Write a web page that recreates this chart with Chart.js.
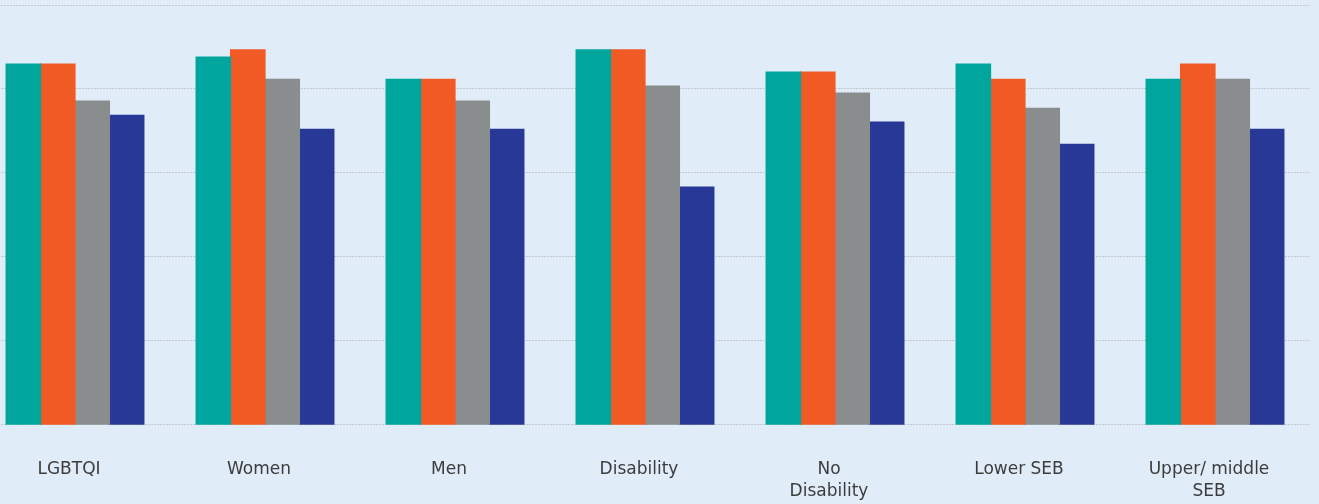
<!DOCTYPE html>
<html>
<head>
<meta charset="utf-8">
<script src="https://cdn.jsdelivr.net/npm/chart.js@4/dist/chart.umd.min.js"></script>
<style>
  html, body { margin: 0; padding: 0; background: #e0ecf8; }
  #wrap { position: relative; width: 1319px; height: 504px; overflow: hidden; background: #e0ecf8; }
  #c { position: absolute; left: -21px; top: 0; }
</style>
</head>
<body>
<div id="wrap"><canvas id="c" width="1342" height="537"></canvas></div>
<script>
const categories = ['LGBTQI', 'Women', 'Men', 'Disability', ['No', 'Disability'], 'Lower SEB', ['Upper/ middle', 'SEB']];
const seriesTeal   = [85.9, 87.6, 82.3, 89.3, 84.0, 85.9, 82.3];
const seriesOrange = [85.9, 89.3, 82.3, 89.3, 84.0, 82.3, 85.9];
const seriesGray   = [77.1, 82.3, 77.1, 80.7, 79.0, 75.4, 82.3];
const seriesNavy   = [73.7, 70.4, 70.4, 56.6, 72.1, 66.8, 70.4];
const yTicks = [0, 20, 40, 60, 80, 100];

const colors = ['#00a59e', '#f15a24', '#8a8d8e', '#283896'];
const seriesList = [seriesTeal, seriesOrange, seriesGray, seriesNavy];
const seriesNames = ['Series 1', 'Series 2', 'Series 3', 'Series 4'];

new Chart(document.getElementById('c'), {
  type: 'bar',
  data: {
    labels: categories,
    datasets: seriesList.map((d, i) => ({
      label: seriesNames[i],
      data: d,
      backgroundColor: colors[i],
      borderWidth: 0,
      inflateAmount: 0.6,
      categoryPercentage: 0.725,
      barPercentage: 1.0
    }))
  },
  options: {
    responsive: false,
    animation: false,
    layout: { padding: { top: 5, bottom: 0, left: 1, right: 11 } },
    plugins: { legend: { display: false }, tooltip: { enabled: false } },
    scales: {
      x: {
        grid: { display: false, drawTicks: false },
        border: { display: false },
        ticks: {
          padding: 34,
          labelOffset: -6,
          maxRotation: 0,
          autoSkip: false,
          color: '#3c3c3c',
          font: { family: 'DejaVu Sans', size: 17, lineHeight: 1.3 }
        }
      },
      y: {
        min: yTicks[0],
        max: yTicks[yTicks.length - 1],
        afterBuildTicks: (axis) => { axis.ticks = yTicks.map(v => ({ value: v })); },
        grid: { color: '#c3c8cd', lineWidth: 1, drawTicks: false },
        border: { display: false, dash: [2, 1] },
        ticks: { display: false }
      }
    }
  }
});
</script>
</body>
</html>
